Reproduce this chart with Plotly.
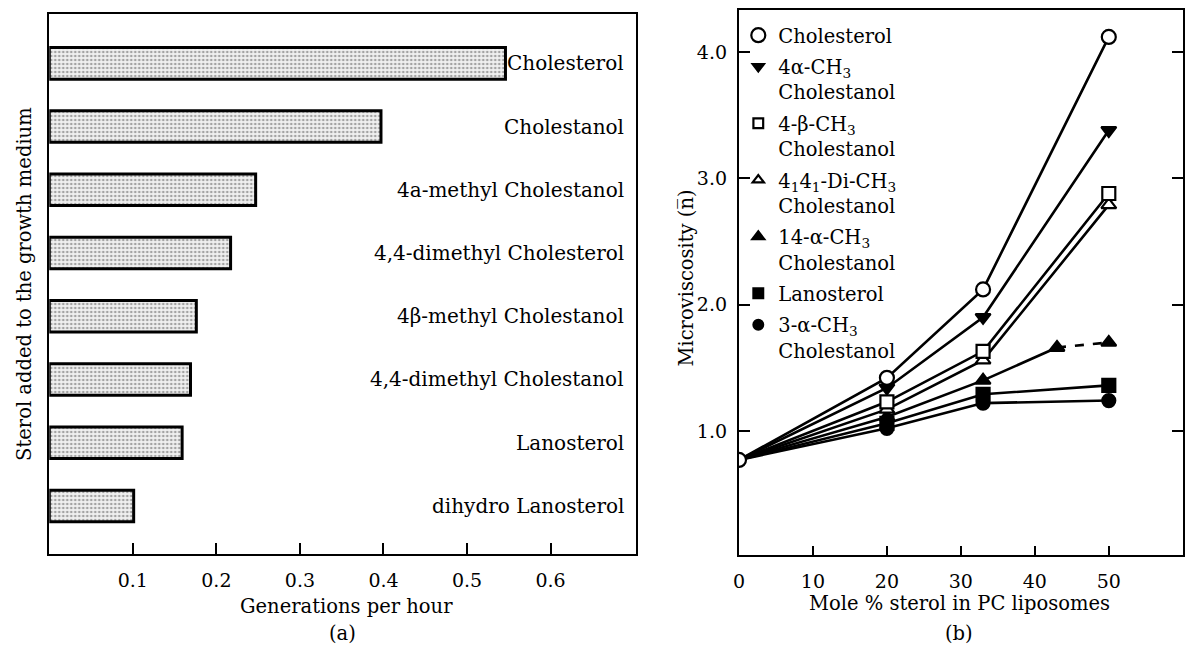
import plotly.graph_objects as go

W, H = 1192, 646
FONT = "DejaVu Serif"

# ---- Panel (a) data ----
sterols = ["Cholesterol", "Cholestanol", "4a-methyl Cholestanol", "4,4-dimethyl Cholesterol",
           "4β-methyl Cholestanol", "4,4-dimethyl Cholestanol", "Lanosterol", "dihydro Lanosterol"]
generations = [0.546, 0.397, 0.247, 0.217, 0.176, 0.169, 0.159, 0.101]
a_ticks = [0.1, 0.2, 0.3, 0.4, 0.5, 0.6]

# ---- Panel (b) data ----
mole_pct = [0, 20, 33, 50]
cholesterol = [0.77, 1.42, 2.12, 4.12]
alpha4_ch3 = [0.77, 1.34, 1.90, 3.38]
beta4_ch3 = [0.77, 1.23, 1.63, 2.88]
di44_ch3 = [0.77, 1.17, 1.56, 2.79]
mole_pct_14a = [0, 20, 33, 43, 50]
alpha14_ch3 = [0.77, 1.11, 1.40, 1.66, 1.70]
lanosterol = [0.77, 1.06, 1.29, 1.36]
alpha3_ch3 = [0.77, 1.02, 1.22, 1.24]
b_xticks = [0, 10, 20, 30, 40, 50, 60]
b_yticks = [1.0, 2.0, 3.0, 4.0]


def px_x(p):
    return p / W


def px_y(p):
    return 1 - p / H


fig = go.Figure()

# Panel (a) bars
fig.add_trace(go.Bar(
    x=generations, y=sterols, orientation="h", width=0.5,
    marker=dict(color="#dcdcdc",
                pattern=dict(shape=".", size=4, solidity=0.35, fgcolor="#555555", bgcolor="#f0f0f0"),
                line=dict(color="black", width=3)),
    xaxis="x", yaxis="y", showlegend=False, hoverinfo="skip"))

# Panel (b) series
series = [
    ("Cholesterol", mole_pct, cholesterol, "circle", "white"),
    ("4α-CH<sub>3</sub><br>Cholestanol", mole_pct, alpha4_ch3, "triangle-down", "black"),
    ("4-β-CH<sub>3</sub><br>Cholestanol", mole_pct, beta4_ch3, "square", "white"),
    ("4<sub>1</sub>4<sub>1</sub>-Di-CH<sub>3</sub><br>Cholestanol", mole_pct, di44_ch3, "triangle-up", "white"),
    ("14-α-CH<sub>3</sub><br>Cholestanol", mole_pct_14a, alpha14_ch3, "triangle-up", "black"),
    ("Lanosterol", mole_pct, lanosterol, "square", "black"),
    ("3-α-CH<sub>3</sub><br>Cholestanol", mole_pct, alpha3_ch3, "circle", "black"),
]

LW = 2.6
for name, xs, ys, sym, col in series:
    if xs is mole_pct_14a:
        fig.add_trace(go.Scatter(x=xs[:4], y=ys[:4], mode="lines", line=dict(color="black", width=LW),
                                 xaxis="x2", yaxis="y2", showlegend=False, hoverinfo="skip"))
        fig.add_trace(go.Scatter(x=xs[3:], y=ys[3:], mode="lines",
                                 line=dict(color="black", width=LW, dash="dash"),
                                 xaxis="x2", yaxis="y2", showlegend=False, hoverinfo="skip"))
    else:
        fig.add_trace(go.Scatter(x=xs, y=ys, mode="lines", line=dict(color="black", width=LW),
                                 xaxis="x2", yaxis="y2", showlegend=False, hoverinfo="skip"))

for i, (name, xs, ys, sym, col) in reversed(list(enumerate(series))):
    sizes = [0] + [13] * (len(xs) - 1)
    if i == 0:
        sizes = [14] * len(xs)
    fig.add_trace(go.Scatter(
        x=xs, y=ys, mode="markers", name=name,
        marker=dict(symbol=sym, size=sizes, color=col, opacity=1,
                    line=dict(color="black", width=2.2)),
        xaxis="x2", yaxis="y2", legendrank=i + 1, legendgroup=str(i)))

tick_font = dict(family=FONT, size=19, color="black")
lab_font = dict(family=FONT, size=19.5, color="black")

fig.update_layout(
    width=W, height=H,
    margin=dict(l=0, r=0, t=0, b=0),
    paper_bgcolor="white", plot_bgcolor="white",
    font=dict(family=FONT, size=19, color="black"),
    xaxis=dict(domain=[px_x(43.5), px_x(633)], range=[0, 0.702], anchor="y",
               tickvals=a_ticks, ticktext=[f"{v:.1f}" for v in a_ticks],
               ticks="inside", ticklen=11, tickwidth=2, tickcolor="black",
               showline=True, linewidth=2.2, linecolor="black", mirror=True,
               showgrid=False, zeroline=False, tickfont=tick_font, ticklabelstandoff=8),
    yaxis=dict(domain=[px_y(554), px_y(14)], range=[7.76, -0.78], anchor="x",
               type="category", showticklabels=False, ticks="",
               showline=True, linewidth=2.2, linecolor="black", mirror=True,
               showgrid=False, zeroline=False),
    xaxis2=dict(domain=[px_x(736.7), px_x(1182.7)], range=[0, 60], anchor="y2",
                tickvals=b_xticks, ticktext=[str(v) for v in b_xticks],
                ticks="inside", ticklen=9, tickwidth=2, tickcolor="black",
                showline=True, linewidth=2.2, linecolor="black", mirror=True,
                showgrid=False, zeroline=False, tickfont=tick_font, ticklabelstandoff=8),
    yaxis2=dict(domain=[px_y(555), px_y(10)], range=[0.017, 4.333], anchor="x2",
                tickvals=b_yticks, ticktext=[f"{v:.1f}" for v in b_yticks],
                ticks="inside", ticklen=11, tickwidth=2, tickcolor="black",
                showline=True, linewidth=2.2, linecolor="black", mirror="ticks",
                showgrid=False, zeroline=False, tickfont=tick_font, ticklabelstandoff=6),
    legend=dict(x=px_x(736), y=px_y(16), xanchor="left", yanchor="top",
                bgcolor="rgba(0,0,0,0)", borderwidth=0, valign="top",
                traceorder="grouped", tracegroupgap=3,
                font=lab_font, itemwidth=30),
    showlegend=True,
)

annotations = []
for s in sterols:
    annotations.append(dict(x=px_x(623), y=s, xref="paper", yref="y", text=s, showarrow=False,
                            xanchor="right", yanchor="middle", font=dict(family=FONT, size=20, color="black")))
annotations += [
    dict(x=px_x(342), y=px_y(606), xref="paper", yref="paper", text="Generations per hour",
         showarrow=False, xanchor="center", yanchor="middle", font=lab_font),
    dict(x=px_x(338), y=px_y(633), xref="paper", yref="paper", text="(a)",
         showarrow=False, xanchor="center", yanchor="middle", font=lab_font),
    dict(x=px_x(18), y=px_y(284), xref="paper", yref="paper", text="Sterol added to the growth medium",
         showarrow=False, xanchor="center", yanchor="middle", textangle=-90, font=lab_font),
    dict(x=px_x(958), y=px_y(603), xref="paper", yref="paper", text="Mole % sterol in PC liposomes",
         showarrow=False, xanchor="center", yanchor="middle", font=lab_font),
    dict(x=px_x(958), y=px_y(633), xref="paper", yref="paper", text="(b)",
         showarrow=False, xanchor="center", yanchor="middle", font=lab_font),
    dict(x=px_x(683), y=px_y(278), xref="paper", yref="paper", text="Microviscosity (n\u0305)",
         showarrow=False, xanchor="center", yanchor="middle", textangle=-90, font=lab_font),
]
fig.update_layout(annotations=annotations)

fig.write_html("out.html",
               config={"displayModeBar": False},
               post_script="document.body.style.margin='0';document.body.style.padding='0';")
